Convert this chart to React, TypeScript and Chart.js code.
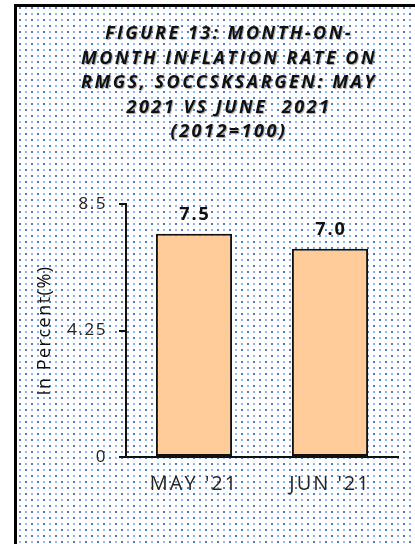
import React, { useEffect, useRef } from 'react';
import { Chart, registerables } from 'chart.js';

Chart.register(...registerables);

const categories = ["MAY '21", "JUN '21"];
const inflationValues = [7.5, 7.0];
const valueLabels = ['7.5', '7.0'];
const yTickValues = [0, 4.25, 8.5];
const yTickLabels = ['0', '4.25', '8.5'];
const titleLines = [
  'FIGURE 13: MONTH-ON-',
  'MONTH INFLATION RATE ON',
  'RMGS, SOCCSKSARGEN: MAY',
  '2021 VS JUNE  2021',
  '(2012=100)',
];
const yAxisTitle = 'In Percent(%)';

const W = 415;
const H = 544;
const FONT = '"Open Sans", "DejaVu Sans", sans-serif';

function wrapSpacing(chart: any, scale: any, method: string, spacing: string) {
  const key = '__wrapped_' + method;
  if (scale[key]) return;
  const orig = scale[method].bind(scale);
  scale[method] = (...args: any[]) => {
    const ctx = chart.ctx as any;
    const prev = ctx.letterSpacing;
    ctx.letterSpacing = spacing;
    orig(...args);
    ctx.letterSpacing = prev || '0px';
  };
  scale[key] = true;
}

const backgroundPlugin = {
  id: 'bgPattern',
  beforeDraw(chart: any) {
    const ctx = chart.ctx as CanvasRenderingContext2D;
    const tile = document.createElement('canvas');
    tile.width = 12;
    tile.height = 12;
    const t = tile.getContext('2d')!;
    t.fillStyle = '#ffffff';
    t.fillRect(0, 0, 12, 12);
    t.fillStyle = 'rgba(40,100,190,0.85)';
    t.fillRect(1, 1, 2, 2);
    t.fillRect(7, 7, 2, 2);
    t.fillStyle = 'rgba(70,130,210,0.55)';
    t.fillRect(7, 1, 2, 2);
    t.fillRect(1, 7, 2, 2);
    ctx.save();
    ctx.fillStyle = '#ffffff';
    ctx.fillRect(0, 0, W, H);
    const pat = ctx.createPattern(tile, 'repeat');
    if (pat) ctx.fillStyle = pat;
    ctx.fillRect(17, 7, W - 17, H - 7);
    ctx.fillStyle = '#000000';
    ctx.fillRect(14, 4, 3, H - 4);
    ctx.fillRect(14, 4, W - 14, 3);
    ctx.restore();
  },
  beforeUpdate(chart: any) {
    (chart.ctx as any).letterSpacing = '0px';
  },
  afterUpdate(chart: any) {
    const x = chart.scales.x;
    const y = chart.scales.y;
    if (x) wrapSpacing(chart, x, 'drawLabels', '2px');
    if (y) {
      wrapSpacing(chart, y, 'drawLabels', '1.5px');
      wrapSpacing(chart, y, 'drawTitle', '1.5px');
    }
  },
};

const labelsAndTitlePlugin = {
  id: 'labelsAndTitle',
  afterDatasetsDraw(chart: any) {
    const ctx = chart.ctx as any;
    const meta = chart.getDatasetMeta(0);
    ctx.save();
    ctx.letterSpacing = '2px';
    ctx.font = `bold 18px ${FONT}`;
    ctx.fillStyle = '#111111';
    ctx.textAlign = 'center';
    ctx.textBaseline = 'alphabetic';
    meta.data.forEach((bar: any, i: number) => {
      ctx.fillText(valueLabels[i], bar.x + 1, bar.y - 14);
    });
    ctx.restore();
  },
  afterDraw(chart: any) {
    const ctx = chart.ctx as any;
    ctx.save();
    ctx.letterSpacing = '2.5px';
    ctx.font = `italic bold 18px ${FONT}`;
    ctx.textAlign = 'center';
    ctx.textBaseline = 'alphabetic';
    ctx.shadowColor = 'rgba(0,0,0,0.35)';
    ctx.shadowOffsetX = 1;
    ctx.shadowOffsetY = 1;
    ctx.shadowBlur = 1;
    ctx.fillStyle = '#111111';
    titleLines.forEach((line, i) => {
      ctx.fillText(line, 229, 39 + i * 24.5);
    });
    ctx.restore();
  },
};

export default function App() {
  const canvasRef = useRef<HTMLCanvasElement | null>(null);

  useEffect(() => {
    if (!canvasRef.current) return;
    const chart = new Chart(canvasRef.current, {
      type: 'bar',
      data: {
        labels: categories,
        datasets: [
          {
            data: inflationValues,
            backgroundColor: '#FFCC99',
            borderColor: '#111111',
            borderWidth: 2,
            borderSkipped: false,
            categoryPercentage: 1,
            barPercentage: 0.56,
          },
        ],
      },
      options: {
        animation: false,
        responsive: false,
        maintainAspectRatio: false,
        layout: { padding: { top: 204, right: 17, left: 17, bottom: 0 } },
        plugins: {
          legend: { display: false },
          title: { display: false },
          tooltip: { enabled: false },
        },
        scales: {
          x: {
            offset: true,
            grid: { display: false, drawTicks: false },
            border: { display: true, color: '#111111', width: 2 },
            ticks: {
              color: '#262626',
              font: { family: FONT, size: 20 },
              padding: 15,
              maxRotation: 0,
            },
            afterFit(scale: any) {
              scale.height = H - 457;
            },
          },
          y: {
            min: 0,
            max: 8.5,
            grid: {
              drawOnChartArea: false,
              drawTicks: true,
              tickLength: 7,
              color: '#111111',
              lineWidth: 2,
            },
            border: { display: true, color: '#111111', width: 2 },
            afterBuildTicks(scale: any) {
              scale.ticks = yTickValues.map((v) => ({ value: v }));
            },
            ticks: {
              color: '#262626',
              font: { family: FONT, size: 17 },
              padding: 12,
              callback: (value: any) => {
                const idx = yTickValues.indexOf(Number(value));
                return idx >= 0 ? yTickLabels[idx] : '';
              },
            },
            title: {
              display: true,
              text: yAxisTitle,
              color: '#111111',
              font: { family: FONT, size: 18 },
              padding: { top: 17, bottom: 0 },
            },
            afterFit(scale: any) {
              scale.width = 126 - 17;
            },
          },
        },
      },
      plugins: [backgroundPlugin, labelsAndTitlePlugin],
    });
    return () => chart.destroy();
  }, []);

  return (
    <div style={{ position: 'absolute', left: 0, top: 0, width: W, height: H }}>
      <canvas ref={canvasRef} width={W} height={H} style={{ width: W, height: H, display: 'block' }} />
    </div>
  );
}
